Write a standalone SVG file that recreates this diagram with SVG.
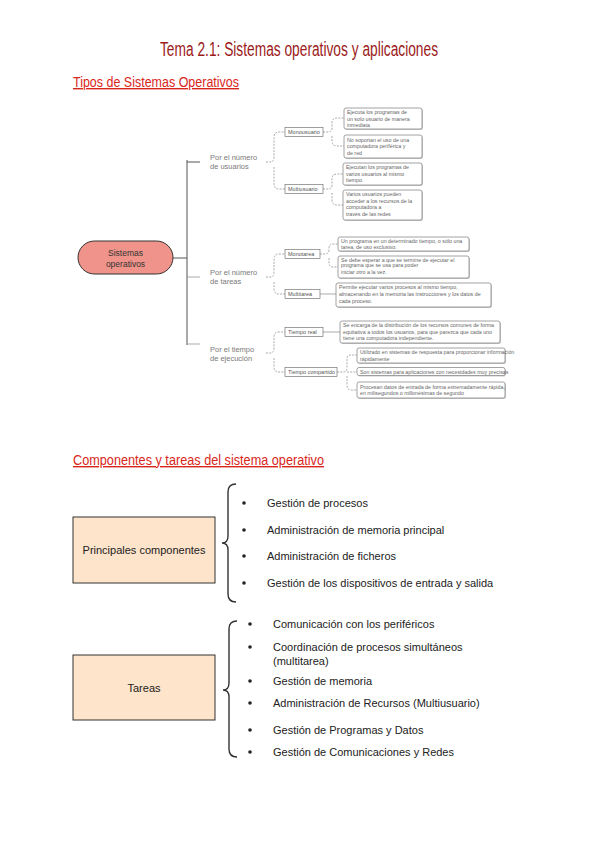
<svg xmlns="http://www.w3.org/2000/svg" width="600" height="848" viewBox="0 0 600 848">
<style>
.title{font-family:"Liberation Sans",Arial,sans-serif;font-size:20px;fill:#9b1b1b}
.head{font-family:"Liberation Sans",Arial,sans-serif;font-size:14px;fill:#d9261c;text-decoration:underline}
.l1{font-family:"Liberation Sans",Arial,sans-serif;font-size:7.5px;fill:#7a7a7a}
.l2{font-family:"Liberation Sans",Arial,sans-serif;font-size:5.5px;fill:#555}
.leaf{font-family:"Liberation Sans",Arial,sans-serif;font-size:5.3px;fill:#666}
.lbox{fill:#fff;stroke:#8c8c8c;stroke-width:0.8}
.lsh{fill:#c8c8c8}
.l2box{fill:#fff;stroke:#777;stroke-width:0.7}
.dash{fill:none;stroke:#888;stroke-width:0.7;stroke-dasharray:2 1.2}
.solid{fill:none;stroke:#888;stroke-width:0.7}
.main{fill:none;stroke:#555;stroke-width:1}
.brace{fill:none;stroke:#333;stroke-width:1.4}
.big{fill:#fde4ca;stroke:#333;stroke-width:1}
.item{font-family:"Liberation Sans",Arial,sans-serif;font-size:11px;fill:#222}
.bul{fill:#222}
</style>
<rect width="600" height="848" fill="#fff"/>
<text class="title" x="160" y="56" textLength="278" lengthAdjust="spacingAndGlyphs">Tema 2.1: Sistemas operativos y aplicaciones</text>
<text class="head" x="73" y="87" textLength="166" lengthAdjust="spacingAndGlyphs">Tipos de Sistemas Operativos</text>
<text class="head" x="73" y="465" textLength="251" lengthAdjust="spacingAndGlyphs">Componentes y tareas del sistema operativo</text>

<g id="connectors">
  <path class="main" d="M173,258 H187 M187,160 V345 M187,162 H200"/>
  <path class="solid" d="M187,277 H200 M187,344 H200"/>
  <!-- level 1 brackets -->
  <path class="dash" d="M266,162 H270 Q274,162 274,157 V137 Q274,132 279,132 H285 M274,167 V184 Q274,189 279,189 H285"/>
  <path class="dash" d="M266,277 H270 Q274,277 274,272 V259 Q274,254 279,254 H285 M274,282 V289 Q274,294 279,294 H285"/>
  <path class="dash" d="M266,353 H270 Q274,353 274,348 V337 Q274,332 279,332 H285 M274,358 V367 Q274,372 279,372 H285"/>
  <!-- level 2 -->
  <path class="dash" d="M323,132 H328 Q332,132 332,128 V123 Q332,118 337,118 H344 M332,136 V141 Q332,146 337,146 H344"/>
  <path class="dash" d="M323,189 H328 Q332,189 332,185 V179 Q332,174 337,174 H343 M332,193 V200 Q332,205 337,205 H343"/>
  <path class="dash" d="M320,254 H325 Q329,254 329,250 V248 Q329,244 333,244 H338 M329,258 V263 Q329,267 333,267 H338"/>
  <path class="solid" d="M320,294 H336"/>
  <path class="solid" d="M323,332 H340"/>
  <path class="dash" d="M337,372 H343 Q347,372 347,368 V359 Q347,355 351,355 H357 M347,372 H357 M347,376 V385 Q347,390 351,390 H357"/>
</g>

<g id="root">
  <rect x="78" y="241" width="95" height="33" rx="16.5" fill="#f0938a" stroke="#333" stroke-width="1"/>
  <text x="125.5" y="256" text-anchor="middle" font-family="Liberation Sans,Arial,sans-serif" font-size="8.5" fill="#333">Sistemas</text>
  <text x="125.5" y="267" text-anchor="middle" font-family="Liberation Sans,Arial,sans-serif" font-size="8.5" fill="#333">operativos</text>
</g>

<g id="usuarios"><text class="l1" x="210" y="160">Por el número</text><text class="l1" x="210" y="169">de usuarios</text></g>
<g id="tareasN"><text class="l1" x="210" y="275">Por el número</text><text class="l1" x="210" y="284">de tareas</text></g>
<g id="tiempo"><text class="l1" x="210" y="352">Por el tiempo</text><text class="l1" x="210" y="361">de ejecución</text></g>

<g id="monousuario"><rect class="l2box" x="285" y="127.5" width="38" height="9"/><text class="l2" x="288" y="134">Monousuario</text></g>
<g id="multiusuario"><rect class="l2box" x="285" y="184.5" width="38" height="9"/><text class="l2" x="288" y="191">Multiusuario</text></g>
<g id="monotarea"><rect class="l2box" x="285" y="249.5" width="35" height="9"/><text class="l2" x="288" y="256">Monotarea</text></g>
<g id="multitarea"><rect class="l2box" x="285" y="289.5" width="35" height="9"/><text class="l2" x="288" y="296">Multitarea</text></g>
<g id="tiemporeal"><rect class="l2box" x="285" y="327.5" width="38" height="9"/><text class="l2" x="288" y="334">Tiempo real</text></g>
<g id="tiempocomp"><rect class="l2box" x="285" y="367.5" width="52" height="9"/><text class="l2" x="288" y="374">Tiempo compartido</text></g>

<g id="leaf1"><rect class="lsh" x="345" y="109" width="78" height="21" rx="2"/><rect class="lbox" x="344" y="108" width="78" height="21" rx="2"/>
<text class="leaf" x="347" y="114">Ejecuta los programas de</text><text class="leaf" x="347" y="120.5">un solo usuario de manera</text><text class="leaf" x="347" y="127">inmediata</text></g>
<g id="leaf2"><rect class="lsh" x="345" y="136" width="78" height="23" rx="2"/><rect class="lbox" x="344" y="135" width="78" height="23" rx="2"/>
<text class="leaf" x="347" y="141.5">No soportan el uso de una</text><text class="leaf" x="347" y="148">computadora periférica y</text><text class="leaf" x="347" y="155">de red</text></g>
<g id="leaf3"><rect class="lsh" x="344" y="164" width="79" height="22" rx="2"/><rect class="lbox" x="343" y="163" width="79" height="22" rx="2"/>
<text class="leaf" x="346" y="169">Ejecutan los programas de</text><text class="leaf" x="346" y="176">varios usuarios al mismo</text><text class="leaf" x="346" y="182">tiempo.</text></g>
<g id="leaf4"><rect class="lsh" x="344" y="191" width="79" height="30" rx="2"/><rect class="lbox" x="343" y="190" width="79" height="30" rx="2"/>
<text class="leaf" x="346" y="196">Varios usuarios pueden</text><text class="leaf" x="346" y="202.5">acceder a los recursos de la</text><text class="leaf" x="346" y="209">computadora a</text><text class="leaf" x="346" y="215.5">través de las redes</text></g>

<g id="leaf5"><rect class="lsh" x="339" y="238" width="131" height="14" rx="2"/><rect class="lbox" x="338" y="237" width="131" height="14" rx="2"/>
<text class="leaf" x="341" y="242.5">Un programa en un determinado tiempo, o sólo una</text><text class="leaf" x="341" y="248.5">tarea, de uso exclusivo.</text></g>
<g id="leaf6"><rect class="lsh" x="339" y="257" width="131" height="22" rx="2"/><rect class="lbox" x="338" y="256" width="131" height="22" rx="2"/>
<text class="leaf" x="341" y="261.5">Se debe esperar a que se termine de ejecutar el</text><text class="leaf" x="341" y="267">programa que se usa para poder</text><text class="leaf" x="341" y="274">iniciar otro a la vez.</text></g>
<g id="leaf7"><rect class="lsh" x="337" y="284" width="155" height="24" rx="2"/><rect class="lbox" x="336" y="283" width="155" height="24" rx="2"/>
<text class="leaf" x="339" y="289">Permite ejecutar varios procesos al mismo tiempo,</text><text class="leaf" x="339" y="296">almacenando en la memoria las instrucciones y los datos de</text><text class="leaf" x="339" y="302.5">cada proceso.</text></g>

<g id="leaf8"><rect class="lsh" x="341" y="322" width="160" height="22" rx="2"/><rect class="lbox" x="340" y="321" width="160" height="22" rx="2"/>
<text class="leaf" x="343" y="327">Se encarga de la distribución de los recursos comunes de forma</text><text class="leaf" x="343" y="334">equitativa a todos los usuarios, para que parezca que cada uno</text><text class="leaf" x="343" y="340">tiene una computadora independiente.</text></g>
<g id="leaf9"><rect class="lsh" x="358" y="349" width="148" height="15" rx="2"/><rect class="lbox" x="357" y="348" width="148" height="15" rx="2"/>
<text class="leaf" x="360" y="354">Utilizado en sistemas de respuesta para proporcionar información</text><text class="leaf" x="360" y="360.5">rápidamente</text></g>
<g id="leaf10"><rect class="lsh" x="358" y="368.5" width="148" height="8" rx="2"/><rect class="lbox" x="357" y="367.5" width="148" height="8" rx="2"/>
<text class="leaf" x="360" y="373.5">Son sistemas para aplicaciones con necesidades muy precisas</text></g>
<g id="leaf11"><rect class="lsh" x="358" y="383" width="148" height="16" rx="2"/><rect class="lbox" x="357" y="382" width="148" height="16" rx="2"/>
<text class="leaf" x="360" y="388.5">Procesan datos de entrada de forma extremadamente rápida,</text><text class="leaf" x="360" y="395">en milisegundos o millonésimas de segundo</text></g>

<g id="componentes">
  <rect class="big" x="73" y="517" width="142" height="66"/>
  <text class="item" x="144" y="554" text-anchor="middle">Principales componentes</text>
  <path class="brace" d="M236,484 Q228,484 228,492 V536 Q228,543 222,543 Q228,543 228,550 V594 Q228,602 236,602"/>
  <circle class="bul" cx="244" cy="503" r="1.8"/><text class="item" x="267" y="507">Gestión de procesos</text>
  <circle class="bul" cx="244" cy="530" r="1.8"/><text class="item" x="267" y="534">Administración de memoria principal</text>
  <circle class="bul" cx="244" cy="556" r="1.8"/><text class="item" x="267" y="560">Administración de ficheros</text>
  <circle class="bul" cx="244" cy="583" r="1.8"/><text class="item" x="267" y="587">Gestión de los dispositivos de entrada y salida</text>
</g>

<g id="tareas">
  <rect class="big" x="73" y="655" width="142" height="65"/>
  <text class="item" x="144" y="692" text-anchor="middle">Tareas</text>
  <path class="brace" d="M237,621 Q229,621 229,629 V683 Q229,690 223,690 Q229,690 229,697 V749 Q229,757 237,757"/>
  <circle class="bul" cx="250" cy="624" r="1.8"/><text class="item" x="273" y="628">Comunicación con los periféricos</text>
  <circle class="bul" cx="250" cy="647" r="1.8"/><text class="item" x="273" y="651">Coordinación de procesos simultáneos</text>
  <text class="item" x="273" y="665">(multitarea)</text>
  <circle class="bul" cx="250" cy="681" r="1.8"/><text class="item" x="273" y="685">Gestión de memoria</text>
  <circle class="bul" cx="250" cy="703" r="1.8"/><text class="item" x="273" y="707">Administración de Recursos (Multiusuario)</text>
  <circle class="bul" cx="250" cy="730" r="1.8"/><text class="item" x="273" y="734">Gestión de Programas y Datos</text>
  <circle class="bul" cx="250" cy="752" r="1.8"/><text class="item" x="273" y="756">Gestión de Comunicaciones y Redes</text>
</g>
</svg>
